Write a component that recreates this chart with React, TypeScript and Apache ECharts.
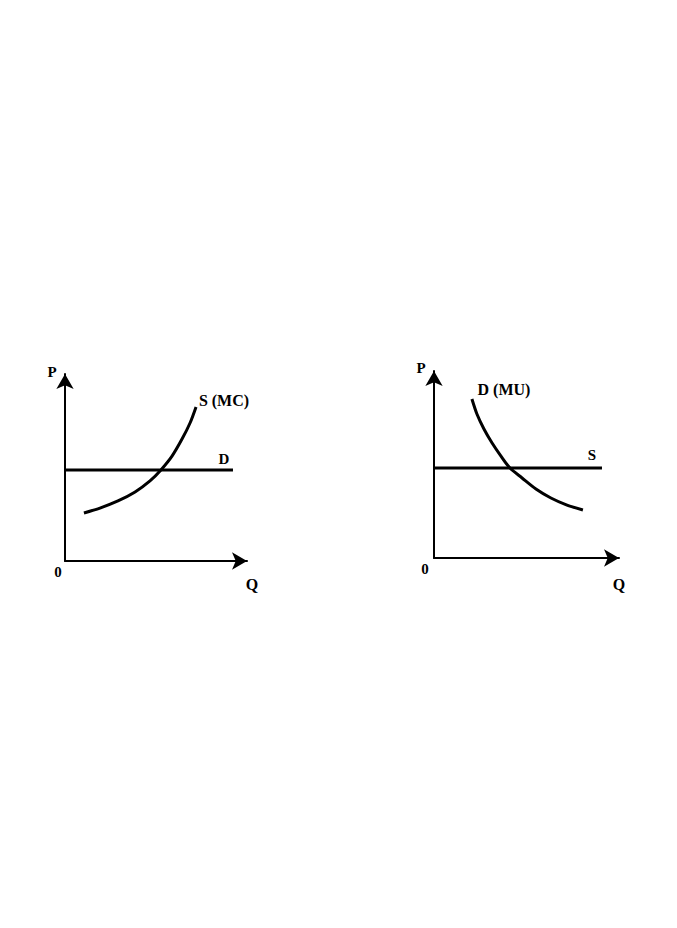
import React, { useEffect, useRef } from "react";
import * as echarts from "echarts";

// Left panel: supply = marginal cost, demand flat
const leftSupplyMC: [number, number][] = [
  [1.04, 2.57], [1.92, 2.83], [2.91, 3.21], [3.85, 3.69], [4.67, 4.28],
  [5.27, 4.87], [5.88, 5.61], [6.43, 6.52], [6.87, 7.38], [7.2, 8.24],
];
const leftDemandFlat: [number, number][] = [[0, 4.87], [9.23, 4.87]];

// Right panel: demand = marginal utility, supply flat
const rightDemandMU: [number, number][] = [
  [2.05, 8.5], [2.32, 7.7], [2.7, 6.9], [3.14, 6.15], [3.62, 5.45],
  [4.11, 4.81], [4.76, 4.28], [5.51, 3.69], [6.32, 3.21], [7.19, 2.83], [8.05, 2.57],
];
const rightSupplyFlat: [number, number][] = [[0, 4.81], [9.08, 4.81]];

const axisMin = 0;
const axisMax = 10;

const FONT = "'Liberation Serif', 'Times New Roman', serif";

export default function App() {
  const ref = useRef<HTMLDivElement>(null);
  useEffect(() => {
    if (!ref.current) return;
    const chart = echarts.init(ref.current, undefined, { renderer: "svg" });
    const axisLine = {
      show: true,
      symbol: ["none", "arrow"],
      symbolSize: [13, 15],
      lineStyle: { color: "#000", width: 2 },
    };
    const baseAxis = {
      type: "value" as const,
      min: axisMin,
      max: axisMax,
      axisLine,
      axisTick: { show: false },
      axisLabel: { show: false },
      splitLine: { show: false },
    };
    const curve = (data: [number, number][], xi: number, smooth: boolean) => ({
      type: "line",
      xAxisIndex: xi,
      yAxisIndex: xi,
      data,
      smooth: smooth ? 0.3 : false,
      showSymbol: false,
      symbol: "none",
      lineStyle: { color: "#000", width: 3 },
      silent: true,
    });
    const txt = (x: number, y: number, text: string, size: number) => ({
      type: "text",
      x,
      y,
      style: {
        text,
        fill: "#000",
        font: `bold ${size}px ${FONT}`,
        align: "center",
        verticalAlign: "middle",
      },
    });
    chart.setOption({
      animation: false,
      backgroundColor: "#fff",
      grid: [
        { left: 65, top: 374, width: 182, height: 187 },
        { left: 434, top: 371, width: 185, height: 187 },
      ],
      xAxis: [
        { ...baseAxis, gridIndex: 0 },
        { ...baseAxis, gridIndex: 1 },
      ],
      yAxis: [
        { ...baseAxis, gridIndex: 0 },
        { ...baseAxis, gridIndex: 1 },
      ],
      series: [
        curve(leftSupplyMC, 0, true),
        curve(leftDemandFlat, 0, false),
        curve(rightDemandMU, 1, true),
        curve(rightSupplyFlat, 1, false),
      ],
      graphic: [
        txt(52, 372, "P", 15),
        txt(58, 572, "0", 15),
        txt(252, 584, "Q", 16),
        txt(224, 459, "D", 15),
        txt(224, 400, "S (MC)", 16),
        txt(421, 368, "P", 15),
        txt(425, 569, "0", 15),
        txt(619, 584, "Q", 16),
        txt(504, 389, "D (MU)", 16),
        txt(592, 455, "S", 15),
      ],
    });
    return () => chart.dispose();
  }, []);
  return (
    <div
      ref={ref}
      style={{ position: "fixed", left: 0, top: 0, width: 677, height: 928, background: "#fff" }}
    />
  );
}
